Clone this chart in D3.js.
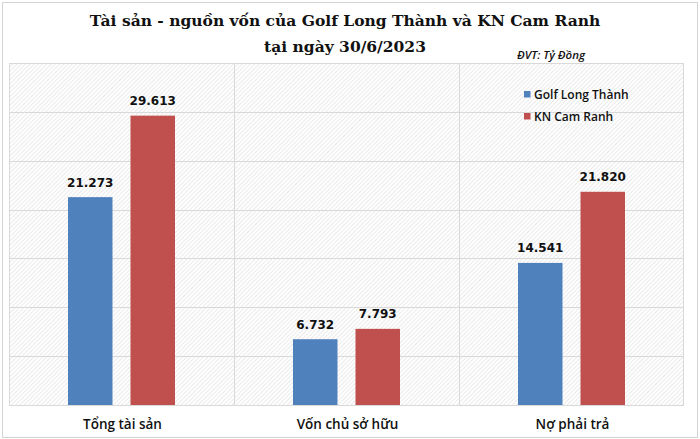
<!DOCTYPE html>
<html>
<head>
<meta charset="utf-8">
<script src="https://cdn.jsdelivr.net/npm/d3@7"></script>
<style>
  html, body { margin: 0; padding: 0; background: #fff; }
  svg { display: block; }
</style>
</head>
<body>
<div id="chart"></div>
<script>
/* global d3 */

// Data (tỷ đồng)
var categories = [ "Tổng tài sản", "Vốn chủ sở hữu", "Nợ phải trả" ];
var seriesNames = [ "Golf Long Thành", "KN Cam Ranh" ];
var golfLongThanh = [ 21273, 6732, 14541 ];
var knCamRanh = [ 29613, 7793, 21820 ];
var yTicks = [ 0, 5000, 10000, 15000, 20000, 25000, 30000, 35000 ];
var titleLines = [ "Tài sản - nguồn vốn của Golf Long Thành và KN Cam Ranh", "tại ngày 30/6/2023" ];
var unitLabel = "ĐVT: Tỷ Đồng";

var colors = { "Golf Long Thành": "#4f81bd", "KN Cam Ranh": "#c0504d" };

var width = 700,
  height = 439,
  margin = { top: 63, right: 16, bottom: 34, left: 9 },
  innerWidth = width - margin.left - margin.right,
  innerHeight = height - margin.top - margin.bottom;

var vn = d3.formatLocale( { decimal: ",", thousands: ".", grouping: [ 3 ], currency: [ "", "" ] } );
var fmt = vn.format( ",d" );

var rows = [];
categories.forEach( function( c, i ) {
  rows.push( { cat: c, series: seriesNames[ 0 ], value: golfLongThanh[ i ] } );
  rows.push( { cat: c, series: seriesNames[ 1 ], value: knCamRanh[ i ] } );
} );

var svg = d3.select( "#chart" ).append( "svg" )
  .attr( "width", width )
  .attr( "height", height );

// hatch fill of the plot area
var pat = svg.append( "defs" ).append( "pattern" )
  .attr( "id", "hatch" )
  .attr( "patternUnits", "userSpaceOnUse" )
  .attr( "width", 3 )
  .attr( "height", 3 )
  .attr( "patternTransform", "rotate(-45)" );
pat.append( "rect" ).attr( "width", 3 ).attr( "height", 3 ).attr( "fill", "#ffffff" );
pat.append( "line" )
  .attr( "x1", 0 ).attr( "y1", 0 ).attr( "x2", 3 ).attr( "y2", 0 )
  .attr( "stroke", "#dcdcdc" ).attr( "stroke-width", 1.2 );

// outer frame
svg.append( "rect" )
  .attr( "x", 2.5 ).attr( "y", 2.5 )
  .attr( "width", width - 5 ).attr( "height", height - 4 )
  .attr( "fill", "#fff" )
  .attr( "stroke", "#d4d4d4" );

var x0 = d3.scaleBand()
  .domain( categories )
  .range( [ 0, innerWidth ] );

var x1 = d3.scaleBand()
  .domain( seriesNames )
  .range( [ -53.5, 53.5 ] )
  .paddingInner( 0.288 );

var y = d3.scaleLinear()
  .domain( [ 0, 35000 ] )
  .range( [ innerHeight, 0 ] );

var g = svg.append( "g" )
  .attr( "transform", "translate(" + margin.left + "," + margin.top + ")" );

g.append( "rect" )
  .attr( "width", innerWidth )
  .attr( "height", innerHeight )
  .attr( "fill", "url(#hatch)" );

// horizontal gridlines
g.append( "g" )
  .selectAll( "line" )
  .data( yTicks )
  .enter().append( "line" )
    .attr( "x1", 0 )
    .attr( "x2", innerWidth )
    .attr( "y1", function( d ) { return Math.round( y( d ) ) + 0.5; } )
    .attr( "y2", function( d ) { return Math.round( y( d ) ) + 0.5; } )
    .attr( "stroke", "#d9d9d9" );

// vertical category dividers
g.append( "g" )
  .selectAll( "line" )
  .data( categories.concat( [ null ] ) )
  .enter().append( "line" )
    .attr( "x1", function( d ) { return d === null ? innerWidth - 0.5 : x0( d ) + 0.5; } )
    .attr( "x2", function( d ) { return d === null ? innerWidth - 0.5 : x0( d ) + 0.5; } )
    .attr( "y1", 0 )
    .attr( "y2", innerHeight )
    .attr( "stroke", "#d9d9d9" );

function barX( d ) {
  return x0( d.cat ) + x0.bandwidth() / 2 + x1( d.series );
}

g.selectAll( ".bar" )
  .data( rows )
  .enter().append( "rect" )
    .attr( "class", "bar" )
    .attr( "x", barX )
    .attr( "y", function( d ) { return y( d.value ); } )
    .attr( "width", x1.bandwidth() )
    .attr( "height", function( d ) { return innerHeight - y( d.value ); } )
    .attr( "fill", function( d ) { return colors[ d.series ]; } );

g.selectAll( ".val" )
  .data( rows )
  .enter().append( "text" )
    .attr( "class", "val" )
    .attr( "x", function( d ) { return barX( d ) + x1.bandwidth() / 2; } )
    .attr( "y", function( d ) { return y( d.value ) - 10.5; } )
    .attr( "text-anchor", "middle" )
    .style( "font-family", "'DejaVu Sans', sans-serif" )
    .style( "font-weight", "bold" )
    .style( "font-size", "12px" )
    .style( "fill", "#111" )
    .text( function( d ) { return fmt( d.value ); } );

// category labels
g.selectAll( ".cat" )
  .data( categories )
  .enter().append( "text" )
    .attr( "class", "cat" )
    .attr( "x", function( d ) { return x0( d ) + x0.bandwidth() / 2 + 1; } )
    .attr( "y", innerHeight + 24 )
    .attr( "text-anchor", "middle" )
    .style( "font-family", "'Open Sans', sans-serif" )
    .style( "font-weight", 600 )
    .style( "font-size", "13.5px" )
    .style( "fill", "#111" )
    .text( function( d ) { return d; } );

// title
svg.append( "g" )
  .selectAll( "text" )
  .data( titleLines )
  .enter().append( "text" )
    .attr( "x", 345 )
    .attr( "y", function( d, i ) { return 26 + i * 26; } )
    .attr( "text-anchor", "middle" )
    .style( "font-family", "'DejaVu Serif', serif" )
    .style( "font-weight", "bold" )
    .style( "font-size", "15.5px" )
    .style( "fill", "#111" )
    .text( function( d ) { return d; } );

svg.append( "text" )
  .attr( "x", 517 )
  .attr( "y", 59 )
  .style( "font-family", "'Open Sans', sans-serif" )
  .style( "font-style", "italic" )
  .style( "font-weight", 600 )
  .style( "font-size", "11.5px" )
  .style( "fill", "#111" )
  .text( unitLabel );

// legend
var legend = svg.append( "g" )
  .attr( "transform", "translate(524,91)" )
  .selectAll( "g" )
  .data( seriesNames )
  .enter().append( "g" )
    .attr( "transform", function( d, i ) { return "translate(0," + i * 22 + ")"; } );

legend.append( "rect" )
  .attr( "width", 6.5 )
  .attr( "height", 6.5 )
  .attr( "fill", function( d ) { return colors[ d ]; } );

legend.append( "text" )
  .attr( "x", 10 )
  .attr( "y", 8 )
  .style( "font-family", "'Open Sans', sans-serif" )
  .style( "font-weight", 600 )
  .style( "font-size", "12px" )
  .style( "fill", "#111" )
  .text( function( d ) { return d; } );
</script>
</body>
</html>
